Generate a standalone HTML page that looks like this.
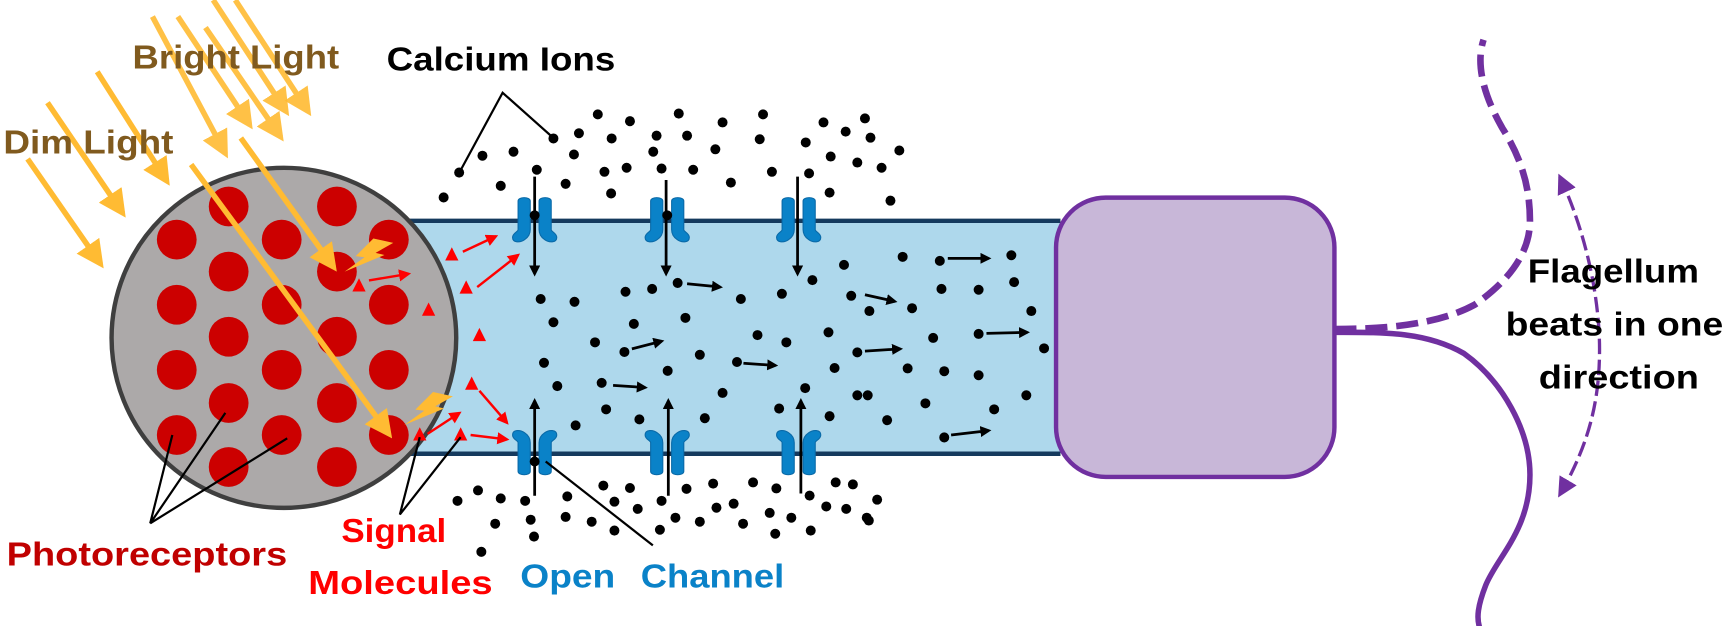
<!DOCTYPE html>
<html><head><meta charset="utf-8"><style>
html,body{margin:0;padding:0;background:#fff;}
svg{display:block;}
text{font-family:"Liberation Sans",sans-serif;font-weight:bold;}
</style></head><body>
<svg width="1731" height="626" viewBox="0 0 1567 567" preserveAspectRatio="none" xmlns="http://www.w3.org/2000/svg">
<defs>
<marker id="ya" markerWidth="5" markerHeight="5" refX="4" refY="2.5" orient="auto" markerUnits="strokeWidth"><path d="M0,0 L5,2.5 L0,5 z" fill="#ffbb33"/></marker>
<marker id="ra" markerWidth="5" markerHeight="5" refX="4" refY="2.5" orient="auto" markerUnits="strokeWidth"><path d="M0,0 L5,2.5 L0,5 z" fill="#ff0000"/></marker>
<marker id="ba" markerWidth="4" markerHeight="4" refX="3" refY="2" orient="auto" markerUnits="strokeWidth"><path d="M0,0 L4,2 L0,4 z" fill="#000"/></marker>
<marker id="pa" markerWidth="6" markerHeight="6" refX="5" refY="3" orient="auto" markerUnits="strokeWidth"><path d="M0,0 L6,3 L0,6 z" fill="#7030a0"/></marker>
<marker id="pas" markerWidth="6" markerHeight="6" refX="1" refY="3" orient="auto" markerUnits="strokeWidth"><path d="M6,0 L0,3 L6,6 z" fill="#7030a0"/></marker>
<g id="ch" fill="#0a82c8" stroke="#0a6aa8" stroke-width="1">
<path d="M-4,-17 C-4,-21 -15,-21 -15,-17 L-15,9 C-15,11 -20,12 -20,16 C-20,21 -13,21 -9,18 C-6,16 -4,13 -4,9 z"/>
<path d="M4,-17 C4,-21 15,-21 15,-17 L15,9 C15,11 20,12 20,16 C20,21 13,21 9,18 C6,16 4,13 4,9 z"/>
</g>
</defs>

<!-- tube -->
<rect x="365" y="200" width="595" height="211" fill="#aed8ec"/>
<line x1="365" y1="200" x2="960" y2="200" stroke="#153a5e" stroke-width="4"/>
<line x1="365" y1="411" x2="960" y2="411" stroke="#153a5e" stroke-width="4"/>

<!-- cell body -->
<ellipse cx="257" cy="306" rx="156" ry="154" fill="#aca9a9" stroke="#3f3f3f" stroke-width="4"/>
<g fill="#cc0000">
<circle cx="207" cy="187" r="18"/><circle cx="305" cy="187" r="18"/>
<circle cx="160" cy="217" r="18"/><circle cx="255" cy="217" r="18"/><circle cx="352" cy="217" r="18"/>
<circle cx="207" cy="246" r="18"/><circle cx="305" cy="246" r="18"/>
<circle cx="160" cy="276" r="18"/><circle cx="255" cy="276" r="18"/><circle cx="352" cy="276" r="18"/>
<circle cx="207" cy="305" r="18"/><circle cx="305" cy="305" r="18"/>
<circle cx="160" cy="335" r="18"/><circle cx="255" cy="335" r="18"/><circle cx="352" cy="335" r="18"/>
<circle cx="207" cy="365" r="18"/><circle cx="305" cy="365" r="18"/>
<circle cx="160" cy="394" r="18"/><circle cx="255" cy="394" r="18"/><circle cx="352" cy="394" r="18"/>
<circle cx="207" cy="423" r="18"/><circle cx="305" cy="423" r="18"/>
</g>

<!-- light arrows -->
<g stroke="#ffbb33" stroke-width="5" fill="none" marker-end="url(#ya)">
<line x1="25" y1="144" x2="91" y2="239"/>
<line x1="43" y1="93" x2="111" y2="193"/>
<line x1="88" y1="65" x2="151" y2="164"/>
<line x1="138" y1="15" x2="204" y2="139" opacity="0.9"/>
<line x1="161" y1="15" x2="226" y2="113" opacity="0.9"/>
<line x1="186" y1="25" x2="254" y2="124" opacity="0.9"/>
<line x1="193" y1="0" x2="259" y2="101" opacity="0.9"/>
<line x1="213" y1="0" x2="279" y2="101" opacity="0.9"/>
<line x1="173" y1="149" x2="352" y2="393"/>
<line x1="218" y1="125" x2="302" y2="242"/>
</g>
<!-- lightning -->
<path d="M338,216 L356,220 L340,229 L348,231 L312,246 L330,233 L322,232 z" fill="#ffbb33"/>
<path d="M392,355 L410,359 L394,368 L402,370 L366,385 L384,372 L376,371 z" fill="#ffbb33"/>

<!-- signal molecules -->
<g fill="#ff0000">
<path d="M409,224 L403,236 L415,236 z"/><path d="M422,254 L416,266 L428,266 z"/>
<path d="M325,252 L319,264 L331,264 z"/><path d="M388,274 L382,286 L394,286 z"/>
<path d="M434,297 L428,309 L440,309 z"/><path d="M427,341 L421,353 L433,353 z"/>
<path d="M380,387 L374,399 L386,399 z"/><path d="M417,387 L411,399 L423,399 z"/>
</g>
<g stroke="#ff0000" stroke-width="2.2" marker-end="url(#ra)">
<line x1="419" y1="228" x2="449" y2="214"/><line x1="432" y1="260" x2="469" y2="231"/>
<line x1="334" y1="254" x2="370" y2="248"/><line x1="434" y1="354" x2="459" y2="383"/>
<line x1="387" y1="393" x2="416" y2="374"/><line x1="426" y1="394" x2="459" y2="398"/>
</g>

<!-- channels -->
<use href="#ch" transform="translate(484,199)"/>
<use href="#ch" transform="translate(604,199)"/>
<use href="#ch" transform="translate(723,199)"/>
<use href="#ch" transform="translate(484,410) scale(1,-1)"/>
<use href="#ch" transform="translate(604,410) scale(1,-1)"/>
<use href="#ch" transform="translate(723,410) scale(1,-1)"/>
<g stroke="#000" stroke-width="2.5" marker-end="url(#ba)">
<line x1="484" y1="160" x2="484" y2="248"/><line x1="603" y1="163" x2="603" y2="248"/><line x1="722" y1="160" x2="722" y2="248"/>
<line x1="484" y1="449" x2="484" y2="363"/><line x1="605" y1="449" x2="605" y2="363"/><line x1="725" y1="447" x2="725" y2="363"/>
<line x1="622" y1="257" x2="652" y2="260"/><line x1="572" y1="316" x2="599" y2="309"/><line x1="673" y1="329" x2="702" y2="331"/>
<line x1="555" y1="349" x2="584" y2="351"/><line x1="783" y1="267" x2="810" y2="273"/><line x1="858" y1="234" x2="895" y2="234"/>
<line x1="893" y1="302" x2="930" y2="301"/><line x1="783" y1="318" x2="815" y2="316"/><line x1="861" y1="394" x2="895" y2="390"/>
</g>
<g fill="#000"><circle cx="484" cy="195" r="4.5"/><circle cx="604" cy="195" r="4.5"/><circle cx="484" cy="418" r="4.5"/></g>

<!-- dots -->
<g fill="#000" transform="scale(0.502,0.3635)">
<ellipse cx="1078" cy="285" rx="9" ry="12.5"/><ellipse cx="1136" cy="302" rx="9" ry="12.5"/><ellipse cx="1224" cy="283" rx="9" ry="12.5"/><ellipse cx="1303" cy="305" rx="9" ry="12.5"/><ellipse cx="1376" cy="285" rx="9" ry="12.5"/><ellipse cx="1485" cy="305" rx="9" ry="12.5"/><ellipse cx="1044" cy="332" rx="9" ry="12.5"/><ellipse cx="1103" cy="345" rx="9" ry="12.5"/><ellipse cx="1184" cy="338" rx="9" ry="12.5"/><ellipse cx="1239" cy="338" rx="9" ry="12.5"/><ellipse cx="998" cy="345" rx="9" ry="12.5"/><ellipse cx="1370" cy="347" rx="9" ry="12.5"/><ellipse cx="1453" cy="355" rx="9" ry="12.5"/><ellipse cx="1525" cy="328" rx="9" ry="12.5"/><ellipse cx="1035" cy="385" rx="9" ry="12.5"/><ellipse cx="1178" cy="378" rx="9" ry="12.5"/><ellipse cx="1290" cy="372" rx="9" ry="12.5"/><ellipse cx="1498" cy="390" rx="9" ry="12.5"/><ellipse cx="1546" cy="405" rx="9" ry="12.5"/><ellipse cx="870" cy="388" rx="9" ry="12.5"/><ellipse cx="926" cy="378" rx="9" ry="12.5"/><ellipse cx="828" cy="430" rx="9" ry="12.5"/><ellipse cx="1090" cy="428" rx="9" ry="12.5"/><ellipse cx="1130" cy="418" rx="9" ry="12.5"/><ellipse cx="1193" cy="420" rx="9" ry="12.5"/><ellipse cx="1250" cy="423" rx="9" ry="12.5"/><ellipse cx="1392" cy="428" rx="9" ry="12.5"/><ellipse cx="1459" cy="432" rx="9" ry="12.5"/><ellipse cx="968" cy="423" rx="9" ry="12.5"/><ellipse cx="903" cy="463" rx="9" ry="12.5"/><ellipse cx="1020" cy="458" rx="9" ry="12.5"/><ellipse cx="1102" cy="482" rx="9" ry="12.5"/><ellipse cx="1318" cy="455" rx="9" ry="12.5"/><ellipse cx="1496" cy="480" rx="9" ry="12.5"/><ellipse cx="800" cy="492" rx="9" ry="12.5"/>
<ellipse cx="1522" cy="660" rx="9" ry="12.5"/><ellipse cx="1465" cy="698" rx="9" ry="12.5"/><ellipse cx="1410" cy="732" rx="9" ry="12.5"/><ellipse cx="1535" cy="737" rx="9" ry="12.5"/><ellipse cx="1336" cy="745" rx="9" ry="12.5"/><ellipse cx="1222" cy="705" rx="9" ry="12.5"/><ellipse cx="1176" cy="720" rx="9" ry="12.5"/><ellipse cx="1128" cy="727" rx="9" ry="12.5"/><ellipse cx="975" cy="745" rx="9" ry="12.5"/><ellipse cx="1036" cy="752" rx="9" ry="12.5"/><ellipse cx="998" cy="803" rx="9" ry="12.5"/><ellipse cx="1143" cy="807" rx="9" ry="12.5"/><ellipse cx="1236" cy="792" rx="9" ry="12.5"/><ellipse cx="1366" cy="835" rx="9" ry="12.5"/><ellipse cx="1418" cy="853" rx="9" ry="12.5"/><ellipse cx="1494" cy="828" rx="9" ry="12.5"/><ellipse cx="1073" cy="853" rx="9" ry="12.5"/><ellipse cx="1126" cy="877" rx="9" ry="12.5"/><ellipse cx="1262" cy="884" rx="9" ry="12.5"/><ellipse cx="1204" cy="924" rx="9" ry="12.5"/><ellipse cx="1329" cy="902" rx="9" ry="12.5"/><ellipse cx="1505" cy="917" rx="9" ry="12.5"/><ellipse cx="1546" cy="878" rx="9" ry="12.5"/><ellipse cx="981" cy="904" rx="9" ry="12.5"/><ellipse cx="1005" cy="962" rx="9" ry="12.5"/><ellipse cx="1085" cy="954" rx="9" ry="12.5"/><ellipse cx="1303" cy="979" rx="9" ry="12.5"/><ellipse cx="1452" cy="967" rx="9" ry="12.5"/><ellipse cx="1093" cy="1020" rx="9" ry="12.5"/><ellipse cx="1153" cy="1045" rx="9" ry="12.5"/><ellipse cx="1271" cy="1042" rx="9" ry="12.5"/><ellipse cx="1405" cy="1018" rx="9" ry="12.5"/><ellipse cx="1496" cy="1037" rx="9" ry="12.5"/><ellipse cx="1038" cy="1060" rx="9" ry="12.5"/><ellipse cx="1546" cy="985" rx="9" ry="12.5"/>
<ellipse cx="862" cy="1222" rx="9" ry="12.5"/><ellipse cx="825" cy="1248" rx="9" ry="12.5"/><ellipse cx="903" cy="1242" rx="9" ry="12.5"/><ellipse cx="947" cy="1248" rx="9" ry="12.5"/><ellipse cx="1023" cy="1237" rx="9" ry="12.5"/><ellipse cx="1088" cy="1210" rx="9" ry="12.5"/><ellipse cx="1136" cy="1216" rx="9" ry="12.5"/><ellipse cx="1108" cy="1250" rx="9" ry="12.5"/><ellipse cx="1150" cy="1268" rx="9" ry="12.5"/><ellipse cx="1193" cy="1248" rx="9" ry="12.5"/><ellipse cx="1238" cy="1218" rx="9" ry="12.5"/><ellipse cx="1286" cy="1205" rx="9" ry="12.5"/><ellipse cx="1358" cy="1202" rx="9" ry="12.5"/><ellipse cx="1400" cy="1217" rx="9" ry="12.5"/><ellipse cx="1460" cy="1235" rx="9" ry="12.5"/><ellipse cx="1507" cy="1202" rx="9" ry="12.5"/><ellipse cx="1538" cy="1207" rx="9" ry="12.5"/><ellipse cx="1490" cy="1262" rx="9" ry="12.5"/><ellipse cx="1526" cy="1268" rx="9" ry="12.5"/><ellipse cx="1563" cy="1290" rx="9" ry="12.5"/><ellipse cx="893" cy="1305" rx="9" ry="12.5"/><ellipse cx="957" cy="1295" rx="9" ry="12.5"/><ellipse cx="1020" cy="1288" rx="9" ry="12.5"/><ellipse cx="1067" cy="1300" rx="9" ry="12.5"/><ellipse cx="1108" cy="1322" rx="9" ry="12.5"/><ellipse cx="1190" cy="1320" rx="9" ry="12.5"/><ellipse cx="1218" cy="1290" rx="9" ry="12.5"/><ellipse cx="1262" cy="1300" rx="9" ry="12.5"/><ellipse cx="1292" cy="1265" rx="9" ry="12.5"/><ellipse cx="1323" cy="1255" rx="9" ry="12.5"/><ellipse cx="1340" cy="1305" rx="9" ry="12.5"/><ellipse cx="1388" cy="1278" rx="9" ry="12.5"/><ellipse cx="1427" cy="1290" rx="9" ry="12.5"/><ellipse cx="1462" cy="1322" rx="9" ry="12.5"/><ellipse cx="1398" cy="1330" rx="9" ry="12.5"/><ellipse cx="963" cy="1337" rx="9" ry="12.5"/><ellipse cx="868" cy="1375" rx="9" ry="12.5"/>
</g>
<g fill="#000" transform="translate(783,0) scale(0.502,0.3635)">
<ellipse cx="0" cy="295" rx="9" ry="12.5"/><ellipse cx="10" cy="343" rx="9" ry="12.5"/><ellipse cx="62" cy="375" rx="9" ry="12.5"/><ellipse cx="30" cy="418" rx="9" ry="12.5"/><ellipse cx="46" cy="500" rx="9" ry="12.5"/>
<ellipse cx="68" cy="640" rx="9" ry="12.5"/><ellipse cx="135" cy="650" rx="9" ry="12.5"/><ellipse cx="264" cy="636" rx="9" ry="12.5"/><ellipse cx="138" cy="720" rx="9" ry="12.5"/><ellipse cx="205" cy="722" rx="9" ry="12.5"/><ellipse cx="269" cy="703" rx="9" ry="12.5"/><ellipse cx="8" cy="775" rx="9" ry="12.5"/><ellipse cx="85" cy="768" rx="9" ry="12.5"/><ellipse cx="300" cy="775" rx="9" ry="12.5"/><ellipse cx="123" cy="842" rx="9" ry="12.5"/><ellipse cx="205" cy="832" rx="9" ry="12.5"/><ellipse cx="323" cy="868" rx="9" ry="12.5"/><ellipse cx="77" cy="918" rx="9" ry="12.5"/><ellipse cx="143" cy="925" rx="9" ry="12.5"/><ellipse cx="205" cy="935" rx="9" ry="12.5"/><ellipse cx="5" cy="985" rx="9" ry="12.5"/><ellipse cx="109" cy="1005" rx="9" ry="12.5"/><ellipse cx="233" cy="1020" rx="9" ry="12.5"/><ellipse cx="291" cy="985" rx="9" ry="12.5"/><ellipse cx="40" cy="1047" rx="9" ry="12.5"/><ellipse cx="143" cy="1090" rx="9" ry="12.5"/>
<ellipse cx="22" cy="1245" rx="9" ry="12.5"/><ellipse cx="7" cy="1297" rx="9" ry="12.5"/>
</g>

<!-- callout lines -->
<g stroke="#000" stroke-width="2" fill="none">
<polyline points="416,156 455,84 501,125"/>
<polyline points="156,394 136,474 204,374"/><line x1="136" y1="474" x2="260" y2="397"/>
<polyline points="380,396 362,466 417,396"/>
<line x1="494" y1="418" x2="591" y2="494"/>
</g>

<!-- purple cell end -->
<rect x="956" y="179" width="252" height="253" rx="45" fill="#c8b7d8" stroke="#7030a0" stroke-width="4"/>

<!-- flagellum -->
<path d="M1208,301 C1250,301 1290,300 1325,320 C1360,345 1385,390 1385,430 C1385,480 1355,505 1345,530 C1338,548 1336,560 1340,570" fill="none" stroke="#7030a0" stroke-width="5"/>
<path d="M1208,298 C1250,298 1300,295 1335,276 C1365,255 1385,230 1385,200 C1385,165 1375,140 1360,116 C1345,90 1335,60 1343,36" fill="none" stroke="#7030a0" stroke-width="6" stroke-dasharray="20,8"/>
<path d="M1412,160 C1440,220 1448,280 1448,316 C1448,360 1440,400 1412,448" fill="none" stroke="#7030a0" stroke-width="3" stroke-dasharray="14,5" marker-start="url(#pas)" marker-end="url(#pa)"/>

<!-- texts -->
<text x="120" y="62" font-size="30" fill="#805a1e" textLength="187" lengthAdjust="spacingAndGlyphs">Bright Light</text>
<text x="3" y="139" font-size="30" fill="#805a1e" textLength="154" lengthAdjust="spacingAndGlyphs">Dim Light</text>
<text x="350" y="64" font-size="30" fill="#000" textLength="207" lengthAdjust="spacingAndGlyphs">Calcium Ions</text>
<text x="6" y="512" font-size="30" fill="#c00000" textLength="254" lengthAdjust="spacingAndGlyphs">Photoreceptors</text>
<text x="309" y="491" font-size="30" fill="#ff0000" textLength="95" lengthAdjust="spacingAndGlyphs">Signal</text>
<text x="279" y="538" font-size="30" fill="#ff0000" textLength="167" lengthAdjust="spacingAndGlyphs">Molecules</text>
<text x="471" y="532" font-size="30" fill="#0a82c8" textLength="86" lengthAdjust="spacingAndGlyphs">Open</text>
<text x="580" y="532" font-size="30" fill="#0a82c8" textLength="130" lengthAdjust="spacingAndGlyphs">Channel</text>
<text x="1383" y="256" font-size="30" fill="#000" textLength="155" lengthAdjust="spacingAndGlyphs">Flagellum</text>
<text x="1363" y="304" font-size="30" fill="#000" textLength="197" lengthAdjust="spacingAndGlyphs">beats in one</text>
<text x="1393" y="352" font-size="30" fill="#000" textLength="145" lengthAdjust="spacingAndGlyphs">direction</text>
</svg>
</body></html>
